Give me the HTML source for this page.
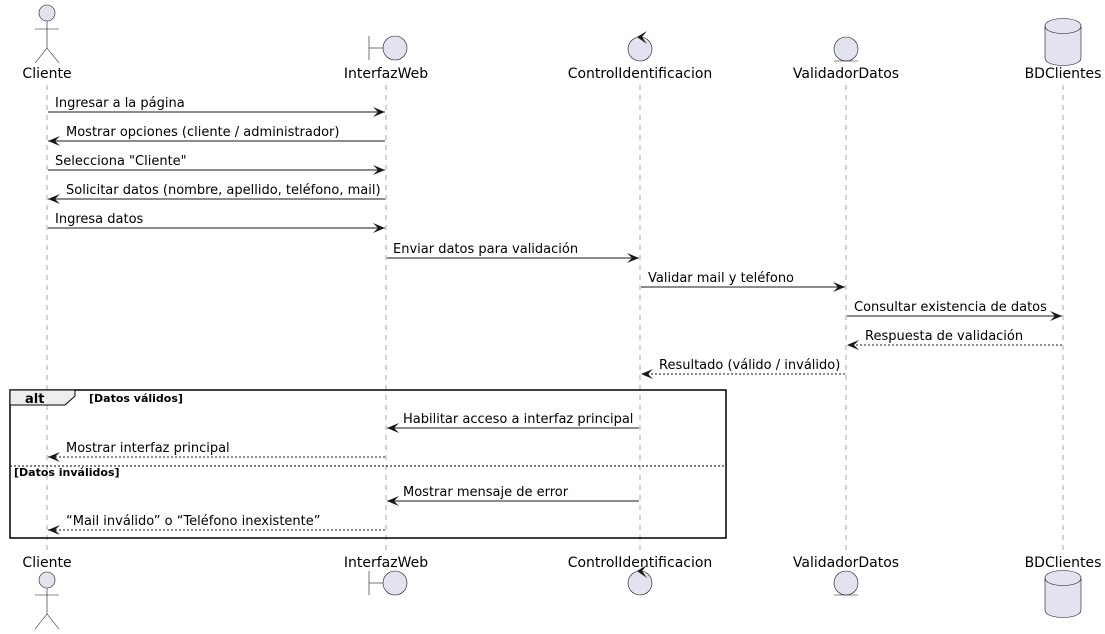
<!DOCTYPE html>
<html><head><meta charset="utf-8"><style>
html,body{margin:0;padding:0;background:#fff;}
svg{display:block;font-family:"DejaVu Sans","Liberation Sans",sans-serif;}
</style></head><body>
<svg width="1105" height="634" viewBox="0 0 1105 634" xmlns="http://www.w3.org/2000/svg">
<defs>
<marker id="a" markerWidth="14" markerHeight="12" refX="12" refY="6" orient="auto" markerUnits="userSpaceOnUse">
<polygon points="0,1 12,6 0,11 5,6" fill="#181818"/>
</marker>
</defs>
<!-- lifelines -->
<g stroke="#555" stroke-width="0.5" stroke-dasharray="5,5">
<line x1="47" y1="85" x2="47" y2="550"/>
<line x1="386" y1="85" x2="386" y2="550"/>
<line x1="640" y1="85" x2="640" y2="550"/>
<line x1="846" y1="85" x2="846" y2="550"/>
<line x1="1063" y1="85" x2="1063" y2="550"/>
</g>
<!-- alt frame -->
<rect x="10" y="390" width="716" height="148" fill="none" stroke="#000" stroke-width="1.5"/>
<polygon points="10,390 75,390 75,396 65,405 10,405" fill="#EEEEEE" stroke="#000" stroke-width="1"/>
<text x="25" y="403" font-size="13" font-weight="bold">alt</text>
<text x="89" y="402" font-size="11" font-weight="bold">[Datos válidos]</text>
<line x1="10" y1="466" x2="726" y2="466" stroke="#000" stroke-width="1" stroke-dasharray="2,2"/>
<text x="14" y="476" font-size="11" font-weight="bold">[Datos inválidos]</text>

<!-- participants -->
<g fill="#E2E2F0" stroke="#181818" stroke-width="0.6">
<circle cx="47" cy="13" r="8"/>
<line x1="47" y1="21" x2="47" y2="48"/><line x1="35" y1="29" x2="59" y2="29"/>
<line x1="47" y1="48" x2="35" y2="63"/><line x1="47" y1="48" x2="59" y2="63"/>
<circle cx="47" cy="580" r="8"/>
<line x1="47" y1="588" x2="47" y2="614"/><line x1="35" y1="595" x2="59" y2="595"/>
<line x1="47" y1="614" x2="35" y2="629"/><line x1="47" y1="614" x2="59" y2="629"/>
<circle cx="395" cy="48" r="12"/><line x1="369" y1="36" x2="369" y2="60"/><line x1="369" y1="48" x2="383" y2="48"/>
<circle cx="395" cy="583" r="12"/><line x1="369" y1="571" x2="369" y2="595"/><line x1="369" y1="583" x2="383" y2="583"/>
<circle cx="640" cy="49" r="12"/>
<circle cx="640" cy="583" r="12"/>
<circle cx="846" cy="49" r="12"/><line x1="834" y1="61" x2="858" y2="61"/>
<circle cx="846" cy="583" r="12"/><line x1="834" y1="595" x2="858" y2="595"/>
<path d="M1045,26 C1045,16 1081,16 1081,26 L1081,58 C1081,68 1045,68 1045,58 Z"/>
<path d="M1045,26 C1045,36 1081,36 1081,26" fill="none"/>
<path d="M1045,578 C1045,568 1081,568 1081,578 L1081,610 C1081,620 1045,620 1045,610 Z"/>
<path d="M1045,578 C1045,588 1081,588 1081,578" fill="none"/>
</g>
<g fill="#181818">
<polygon points="637,37 647,31 642,37 647,44"/>
<polygon points="637,571 647,565 642,571 647,578"/>
</g>
<g font-size="14" fill="#000" text-anchor="middle">
<text x="47" y="78">Cliente</text><text x="386" y="78">InterfazWeb</text><text x="640" y="78">ControlIdentificacion</text><text x="846" y="78">ValidadorDatos</text><text x="1063" y="78">BDClientes</text>
<text x="47" y="567">Cliente</text><text x="386" y="567">InterfazWeb</text><text x="640" y="567">ControlIdentificacion</text><text x="846" y="567">ValidadorDatos</text><text x="1063" y="567">BDClientes</text>
</g>

<!-- messages -->
<g stroke="#181818" stroke-width="1" marker-end="url(#a)" fill="none">
<line x1="48" y1="112" x2="385" y2="112"/>
<line x1="385" y1="141" x2="48" y2="141"/>
<line x1="48" y1="170" x2="385" y2="170"/>
<line x1="385" y1="199" x2="48" y2="199"/>
<line x1="48" y1="228" x2="385" y2="228"/>
<line x1="387" y1="258" x2="639" y2="258"/>
<line x1="641" y1="287" x2="845" y2="287"/>
<line x1="847" y1="316" x2="1062" y2="316"/>
<line x1="1062" y1="345" x2="847" y2="345" stroke-dasharray="2,2"/>
<line x1="845" y1="374" x2="641" y2="374" stroke-dasharray="2,2"/>
<line x1="639" y1="428" x2="387" y2="428"/>
<line x1="385" y1="457" x2="48" y2="457" stroke-dasharray="2,2"/>
<line x1="639" y1="501" x2="387" y2="501"/>
<line x1="385" y1="530" x2="48" y2="530" stroke-dasharray="2,2"/>
</g>
<g font-size="13" fill="#000">
<text x="55" y="107">Ingresar a la página</text>
<text x="66" y="136">Mostrar opciones (cliente / administrador)</text>
<text x="55" y="165">Selecciona "Cliente"</text>
<text x="66" y="194">Solicitar datos (nombre, apellido, teléfono, mail)</text>
<text x="55" y="223">Ingresa datos</text>
<text x="393" y="253">Enviar datos para validación</text>
<text x="648" y="282">Validar mail y teléfono</text>
<text x="854" y="311">Consultar existencia de datos</text>
<text x="865" y="340">Respuesta de validación</text>
<text x="659" y="369">Resultado (válido / inválido)</text>
<text x="403" y="423">Habilitar acceso a interfaz principal</text>
<text x="66" y="452">Mostrar interfaz principal</text>
<text x="403" y="496">Mostrar mensaje de error</text>
<text x="66" y="525">“Mail inválido” o “Teléfono inexistente”</text>
</g>
</svg>
</body></html>
